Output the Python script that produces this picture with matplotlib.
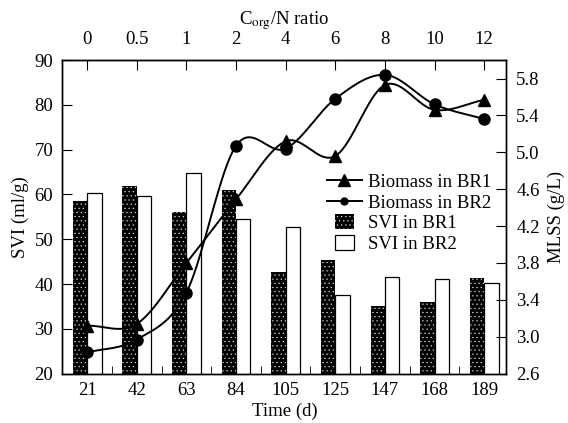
import matplotlib
matplotlib.use("Agg")
import matplotlib.pyplot as plt
import numpy as np
from matplotlib.legend_handler import HandlerPatch
from matplotlib.lines import Line2D
from matplotlib.patches import Patch, Rectangle

# data
time_labels = ["21", "42", "63", "84", "105", "125", "147", "168", "189"]
ratio_labels = ["0", "0.5", "1", "2", "4", "6", "8", "10", "12"]
svi_br1 = [58.6, 62.0, 56.1, 61.0, 42.8, 45.4, 35.1, 36.1, 41.4]
svi_br2 = [60.4, 59.6, 64.7, 54.5, 52.7, 37.6, 41.5, 41.1, 40.2]
mlss_br1 = [3.12, 3.14, 3.80, 4.49, 5.12, 4.96, 5.73, 5.46, 5.57]
mlss_br2 = [2.83, 2.97, 3.48, 5.07, 5.04, 5.58, 5.84, 5.52, 5.36]


def smooth_line(y, n=40):
    """Catmull-Rom style smoothed line through equally spaced points."""
    y = np.asarray(y, float)
    m = np.gradient(y)
    xs, ys = [], []
    for i in range(len(y) - 1):
        t = np.linspace(0, 1, n)
        h00 = 2 * t**3 - 3 * t**2 + 1
        h10 = t**3 - 2 * t**2 + t
        h01 = -2 * t**3 + 3 * t**2
        h11 = t**3 - t**2
        xs.append(i + t)
        ys.append(h00 * y[i] + h10 * m[i] + h01 * y[i + 1] + h11 * m[i + 1])
    return np.concatenate(xs), np.concatenate(ys)


def square_patch(legend, orig_handle, xdescent, ydescent, width, height, fontsize):
    s = height * 1.15
    return Rectangle((-xdescent + width / 2 - s * 0.6, -ydescent + height / 2 - s / 2),
                     s * 1.2, s)


plt.rcParams["font.family"] = ["Liberation Serif", "DejaVu Serif"]
plt.rcParams["mathtext.fontset"] = "stix"
plt.rcParams["font.size"] = 13.5
plt.rcParams["hatch.linewidth"] = 0.3

fig = plt.figure(figsize=(5.68, 4.23), dpi=100)
ax = fig.add_axes([0.1097, 0.1166, 0.782, 0.7414])

x = np.arange(len(time_labels))
w = 0.29
ax.bar(x - w / 2, svi_br1, w, color="black", edgecolor="white", hatch="....", linewidth=0)
ax.bar(x + w / 2, svi_br2, w, color="white", edgecolor="black", linewidth=0.9)

ax.set_ylim(20, 90)
ax.set_xlim(-0.5, 8.45)
ax.set_yticks(range(20, 91, 10))
ax.set_xticks(x)
ax.set_xticklabels(time_labels)
ax.set_xticks(np.arange(0.5, 8, 1), minor=True)
ax.tick_params(axis="x", which="major", length=0, pad=6)
ax.tick_params(axis="x", which="minor", direction="in", length=6)
ax.tick_params(axis="y", direction="in", length=7, pad=6.5)
ax.set_ylabel("SVI (ml/g)", labelpad=4)
ax.set_xlabel("Time (d)", labelpad=3)

top = ax.secondary_xaxis("top")
top.set_xticks(x)
top.set_xticklabels(ratio_labels)
top.tick_params(direction="in", length=7, pad=8.5)
top.set_xlabel("C$_{\\rm org}$/N ratio", labelpad=5)

ax2 = ax.twinx()
ax2.set_ylim(2.6, 6.0)
ax2.set_yticks(np.arange(2.6, 5.81, 0.4))
ax2.set_yticklabels([f"{v:.1f}" for v in np.arange(2.6, 5.81, 0.4)])
ax2.tick_params(axis="y", direction="in", length=7, pad=7)
ax2.set_ylabel("MLSS (g/L)", labelpad=6)

sx, sy = smooth_line(mlss_br1)
ax2.plot(sx, sy, color="black", lw=1.4)
ax2.plot(x, mlss_br1, ls="none", marker="^", ms=8.5, color="black")
sx, sy = smooth_line(mlss_br2)
ax2.plot(sx, sy, color="black", lw=1.4)
ax2.plot(x, mlss_br2, ls="none", marker="o", ms=8, color="black")

for a in (ax, ax2):
    for sp in a.spines.values():
        sp.set_linewidth(1.0)
        sp.set_color("black")

handles = [
    Line2D([], [], color="black", lw=1.4, marker="^", ms=8.5),
    Line2D([], [], color="black", lw=1.4, marker="o", ms=5),
    Patch(facecolor="black", edgecolor="white", hatch="....", linewidth=0),
    Patch(facecolor="white", edgecolor="black", linewidth=0.9),
]
labels = ["Biomass in BR1", "Biomass in BR2", "SVI in BR1", "SVI in BR2"]
ax2.legend(handles, labels, loc="upper right", bbox_to_anchor=(0.995, 0.68),
           frameon=False, handlelength=1.9, handletextpad=0.3,
           labelspacing=0.2, borderpad=0.2,
           handler_map={Patch: HandlerPatch(patch_func=square_patch)})

fig.savefig("out.png", dpi=100)
